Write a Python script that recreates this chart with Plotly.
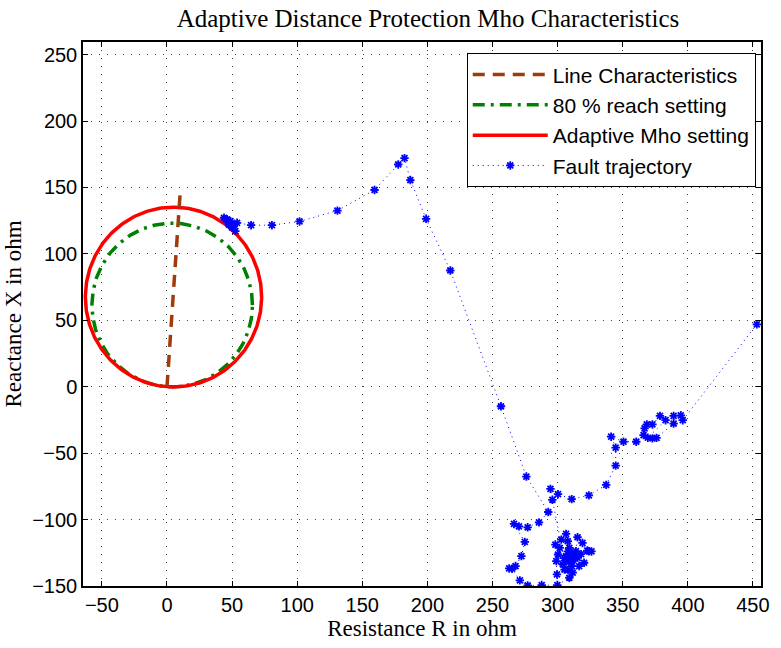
import numpy as np
import plotly.graph_objects as go

# ---- data ----
line_R = [0, 10]
line_X = [0, 144]

# Mho circles: diameter from origin to reach impedance (R, X)
mho_reach = (10, 135)      # adaptive mho setting
reach80 = (8, 123)         # 80 % reach setting

fault_R = [43.8, 45, 46.2, 48.8, 47.5, 51.3, 50, 52.5, 53.8, 64.6, 80.6, 101.8, 130.9,
           159.4, 177.6, 182.4, 186.9, 199, 217.6, 256.5, 276, 292.8, 285.7, 277, 270.3,
           266.5, 274.8, 272.2, 267.7, 262.8, 265, 271, 277, 287.8, 299.8,
           309, 311.6, 305.3, 299.5, 299, 304, 310.3, 316.5, 320.3, 315.3, 311.6, 306.5,
           300.3, 301.6, 298.3, 302.8, 306.5, 307.8, 309, 314.1, 315.3, 319.1, 322.8, 324,
           326, 318, 313, 308, 310, 312, 307, 311, 308, 305,
           296, 294.5, 300.3, 310.8, 324, 337.3, 344.6, 344.6, 341.1, 350.6, 360.4, 366,
           366.8, 368.5, 372.8, 378.6, 382.9, 369.3, 372.8, 376, 389.1, 389.1, 394.6, 396.1,
           453]
fault_X = [127.2, 125.9, 125.9, 124.6, 122.1, 121.6, 119.7, 117.1, 123.4, 121.6, 121.6, 124.4, 132.6,
           148.1, 167.3, 172.1, 155.6, 126.4, 87.5, -14.7, -67.6, -94.3, -102.1, -105.8, -105.1,
           -103.3, -116.8, -127.5, -135, -136.8, -137, -145.8, -149.6, -149.3, -149.3,
           -143.8, -140, -137.6, -141.3, -131.3, -133.8, -132.5, -135, -132.5, -128.8, -126.3, -127.5,
           -126.3, -121.3, -118.8, -115.1, -110.8, -116.3, -121.3, -123.8, -113.3, -117.6, -123.3, -123.8,
           -124, -126, -129, -124, -127, -130, -131, -135, -138, -129,
           -85.1, -76.9, -80.9, -84.6, -81.8, -73.9, -59.4, -45.9, -37.6, -41.4, -41.4, -36.4,
           -31.4, -28.4, -28.4, -21.9, -25.2, -38.4, -38.9, -38.5, -27.7, -21.9, -21.5, -25.2,
           47]

x_ticks = [-50, 0, 50, 100, 150, 200, 250, 300, 350, 400, 450]
y_ticks = [-150, -100, -50, 0, 50, 100, 150, 200, 250]


def mho_circle(reach, n=361):
    cx, cy = reach[0] / 2.0, reach[1] / 2.0
    r = np.hypot(cx, cy)
    t = np.linspace(0, 2 * np.pi, n)
    return cx + r * np.cos(t), cy + r * np.sin(t)


gx, gy = mho_circle(reach80)
rx, ry = mho_circle(mho_reach)

fig = go.Figure()
fig.add_trace(go.Scatter(x=gx, y=gy, mode="lines", name="80 % reach setting",
                         line=dict(color="rgb(0,128,0)", width=3.5, dash="12px,6px,3px,6px"),
                         legendrank=2))
fig.add_trace(go.Scatter(x=rx, y=ry, mode="lines", name="Adaptive Mho setting",
                         line=dict(color="rgb(255,0,0)", width=3.5), legendrank=3))
fig.add_trace(go.Scatter(x=line_R, y=line_X, mode="lines", name="Line Characteristics",
                         line=dict(color="rgb(160,60,10)", width=3.5, dash="12px,8px"),
                         legendrank=1))
fig.add_trace(go.Scatter(x=fault_R, y=fault_X, mode="lines+markers", name="Fault trajectory",
                         line=dict(color="rgb(0,0,255)", width=1, dash="1px,4px"),
                         marker=dict(symbol="asterisk-open", size=7, color="rgb(0,0,255)",
                                     line=dict(color="rgb(0,0,255)", width=1.8)),
                         legendrank=4))

axis_common = dict(
    showline=True, linecolor="black", linewidth=1.5, mirror="ticks",
    ticks="inside", ticklen=5, tickcolor="black", tickwidth=1,
    showgrid=True, gridcolor="rgba(0,0,0,0.75)", gridwidth=1, griddash="1px,7px",
    zeroline=False,
    tickfont=dict(family="Liberation Sans, Arial", size=20, color="black"),
)

label_font = dict(family="Liberation Serif, Times New Roman", size=23, color="black")

fig.update_xaxes(range=[-64.5, 456.2], tickvals=x_ticks,
                 title=dict(text="Resistance R in ohm", standoff=4, font=label_font),
                 **axis_common)
fig.update_yaxes(range=[-150, 259.5], tickvals=y_ticks,
                 title=dict(text="Reactance X in ohm", standoff=4, font=label_font),
                 **axis_common)

fig.update_layout(
    width=781, height=648,
    margin=dict(l=75, r=13, t=42, b=60),
    paper_bgcolor="white", plot_bgcolor="white",
    title=dict(text="Adaptive Distance Protection Mho Characteristics",
               x=428 / 781, xanchor="center", y=0.972, yanchor="middle",
               font=dict(family="Liberation Serif, Times New Roman", size=25, color="black")),
    legend=dict(x=0.566, y=0.979, xanchor="left", yanchor="top",
                bgcolor="white", bordercolor="black", borderwidth=1,
                font=dict(family="Liberation Sans, Arial", size=21, color="black"),
                itemwidth=75, tracegroupgap=0),
    showlegend=True,
)

fig.write_html("out.html")
